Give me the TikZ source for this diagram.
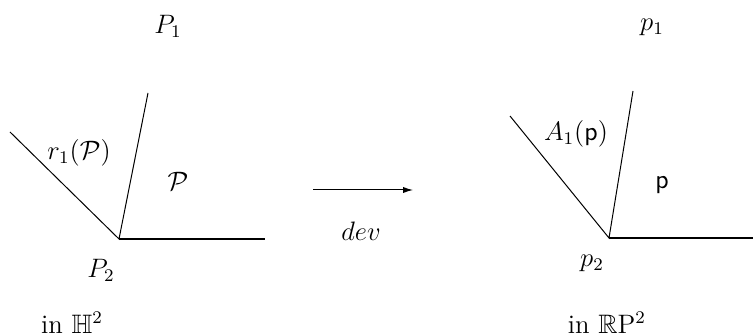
\documentclass[tikz,border=0pt]{standalone}
\usepackage{amssymb}
\usetikzlibrary{arrows.meta}
\begin{document}
\begin{tikzpicture}[x=0.45pt,y=-0.45pt,
  edge/.style={line width=0.45pt},
  base/.style={line width=0.65pt},
  lbl/.style={inner sep=0pt,font=\large}]
\useasboundingbox (0,0) rectangle (753,336);
% left
\coordinate (LV) at (119,239);
\coordinate (LA) at (10,132);
\coordinate (LB) at (148,93);
\coordinate (LC) at (265,239);
\draw[edge] (LA) -- (LV) -- (LB);
\draw[base] (LV) -- (LC);
\node[lbl] (P1) at (168,26) {$P_1$};
\node[lbl] (rP) at (79,153) {$r_1(\mathcal{P})$};
\node[lbl] (PP) at (178,181) {$\mathcal{P}$};
\node[lbl] (P2) at (101,270) {$P_2$};
\node[lbl] (H) at (72,323) {in $\mathbb{H}^2$};
% arrow
\coordinate (AS) at (313,190);
\coordinate (AE) at (413,190);
\draw[edge,-{Latex[length=4.5pt,width=2.8pt]}] (AS) -- (AE);
\node[lbl] (dev) at (361,231) {$dev$};
% right
\coordinate (RV) at (609,238);
\coordinate (RA) at (510,116);
\coordinate (RB) at (633,91);
\coordinate (RC) at (753,238);
\draw[edge] (RA) -- (RV) -- (RB);
\draw[base] (RV) -- (RC);
\node[lbl] (p1) at (652,27) {$p_1$};
\node[lbl] (Ap) at (576,134) {$A_1(\mathsf{p})$};
\node[lbl] (pp) at (662,185) {$\mathsf{p}$};
\node[lbl] (p2) at (592,263) {$p_2$};
\node[lbl] (RP) at (607,323) {in $\mathbb{R}\mathrm{P}^2$};
\end{tikzpicture}
\end{document}
